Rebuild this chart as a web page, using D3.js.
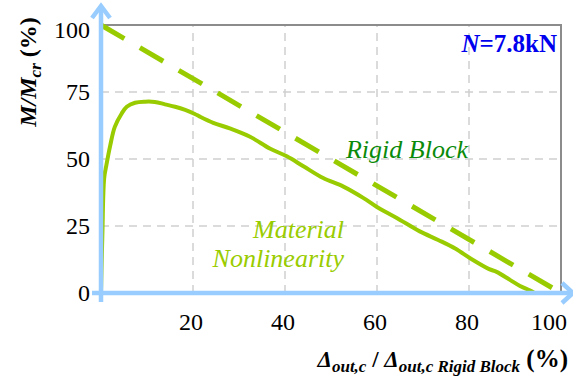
<!DOCTYPE html>
<html>
<head>
<meta charset="utf-8">
<script src="https://cdn.jsdelivr.net/npm/d3@7"></script>
<style>
  body { margin: 0; background: #fff; }
</style>
</head>
<body>
<div class="chart"></div>
<script>
// -- data --
var xTicks = [20, 40, 60, 80, 100];
var yTicks = [0, 25, 50, 75, 100];

var rigidBlock = [
  {x: 0, y: 100},
  {x: 100, y: 0}
];

var materialX = [0, 0.3, 0.7, 1.2, 2.0, 3.0, 4.5, 5.6, 7.4, 9.6, 11.7, 13.9, 16.1, 18.3, 20.4,
                 21.5, 24.4, 28.0, 32.4, 36.7, 40.4, 44.0, 48.3, 52.7, 57.0, 59.9, 64.3, 69.3,
                 73.3, 77.0, 80.6, 84.4, 86.0, 88.9, 91.1, 93.3, 94.2];
var materialY = [0, 22, 43, 48, 55, 62, 67, 69.5, 71.0, 71.4, 71.3, 70.4, 69.5, 68.3, 66.8,
                 65.8, 63.5, 61.4, 58.3, 53.9, 51.0, 47.3, 42.9, 39.7, 35.5, 32.2, 28.0, 23.0,
                 19.8, 16.6, 12.6, 8.9, 7.9, 4.9, 2.6, 0.9, 0];

var width = 573,
    height = 379,
    margin = {top: 25, right: 12, bottom: 86, left: 101},
    serif = "Liberation Serif";

var svg = d3.select("div.chart").append("svg")
    .attr("width", width)
    .attr("height", height)
    .style("display", "block");

var x = d3.scaleLinear()
    .domain([0, 100])
    .range([margin.left, width - margin.right]);

var y = d3.scaleLinear()
    .domain([0, 100])
    .range([height - margin.bottom, margin.top]);

var lime = "#99cc00";
var axisBlue = "#99ccff";

// grid
svg.append("g")
  .selectAll("line")
  .data(xTicks.filter(function(d) { return d < 100; }))
  .enter().append("line")
    .attr("x1", function(d) { return x(d); })
    .attr("x2", function(d) { return x(d); })
    .attr("y1", y(0))
    .attr("y2", y(100))
    .attr("stroke", "#cfcfcf")
    .attr("stroke-width", 1.5)
    .attr("stroke-dasharray", "8,6");

svg.append("g")
  .selectAll("line")
  .data(yTicks.filter(function(d) { return d > 0 && d < 100; }))
  .enter().append("line")
    .attr("x1", x(0))
    .attr("x2", x(100))
    .attr("y1", function(d) { return y(d); })
    .attr("y2", function(d) { return y(d); })
    .attr("stroke", "#cfcfcf")
    .attr("stroke-width", 1.5)
    .attr("stroke-dasharray", "8,6");

// plot frame (top / right)
svg.append("path")
    .attr("d", "M" + x(0) + "," + y(100) + "H" + x(100) + "V" + y(0))
    .attr("fill", "none")
    .attr("stroke", "#8c8c8c")
    .attr("stroke-width", 2);

// lines
var line = d3.line()
    .x(function(d) { return x(d.x); })
    .y(function(d) { return y(d.y); });

var material = materialX.map(function(v, i) { return {x: v, y: materialY[i]}; });

svg.append("path")
    .datum(rigidBlock)
    .attr("fill", "none")
    .attr("stroke", lime)
    .attr("stroke-width", 5)
    .attr("stroke-dasharray", "27,18")
    .attr("d", line);

svg.append("path")
    .datum(material)
    .attr("fill", "none")
    .attr("stroke", lime)
    .attr("stroke-width", 4)
    .attr("stroke-linejoin", "round")
    .attr("d", line.curve(d3.curveCatmullRom));

// axes with arrows
var axes = svg.append("g")
    .attr("fill", "none")
    .attr("stroke", axisBlue)
    .attr("stroke-width", 4.5);

axes.append("path")
    .attr("d", "M" + x(0) + "," + (y(0) + 9) + "V" + 6);
axes.append("path")
    .attr("d", "M" + (x(0) - 9) + "," + y(0) + "H" + 573);
axes.append("path")
    .attr("d", "M" + (x(0) - 9) + ",18L" + x(0) + ",6L" + (x(0) + 9) + ",18");
axes.append("path")
    .attr("d", "M562," + (y(0) - 10) + "L573," + y(0) + "L562," + (y(0) + 10));

// tick labels
svg.append("g")
  .selectAll("text")
  .data(yTicks)
  .enter().append("text")
    .attr("x", 90)
    .attr("y", function(d) { return y(d) + (d == 100 ? 5 : 0); })
    .attr("dy", "0.35em")
    .attr("text-anchor", "end")
    .attr("font-family", serif)
    .attr("font-size", 24)
    .text(function(d) { return d; });

svg.append("g")
  .selectAll("text")
  .data(xTicks)
  .enter().append("text")
    .attr("x", function(d) { return x(d) - (d == 100 ? 12 : 2); })
    .attr("y", 330)
    .attr("text-anchor", "middle")
    .attr("font-family", serif)
    .attr("font-size", 24)
    .text(function(d) { return d; });

// y title
var yt = svg.append("text")
    .attr("transform", "translate(36,72) rotate(-90)")
    .attr("text-anchor", "middle")
    .attr("font-family", serif)
    .attr("font-weight", "bold")
    .attr("font-size", 24);
yt.append("tspan").attr("font-style", "italic").text("M/M");
yt.append("tspan").attr("font-style", "italic").attr("font-size", 17).attr("dy", 5).text("cr");
yt.append("tspan").attr("dy", -5).text(" (%)");

// x title
var xt = svg.append("text")
    .attr("x", 568)
    .attr("y", 367)
    .attr("text-anchor", "end")
    .attr("font-family", serif)
    .attr("font-weight", "bold")
    .attr("font-size", 23);
xt.append("tspan").attr("font-style", "italic").text("\u0394");
xt.append("tspan").attr("font-style", "italic").attr("font-size", 17).attr("dy", 5).text("out,c");
xt.append("tspan").attr("dy", -5).text(" / ");
xt.append("tspan").attr("font-style", "italic").text("\u0394");
xt.append("tspan").attr("font-style", "italic").attr("font-size", 17).attr("dy", 5).text("out,c Rigid Block");
xt.append("tspan").attr("dy", -5).attr("font-size", 25).text(" (%)");

// annotations
var nt = svg.append("text")
    .attr("x", 557)
    .attr("y", 52)
    .attr("text-anchor", "end")
    .attr("fill", "#0000ee")
    .attr("font-family", serif)
    .attr("font-weight", "bold")
    .attr("font-size", 25);
nt.append("tspan").attr("font-style", "italic").text("N");
nt.append("tspan").text("=7.8kN");

svg.append("text")
    .attr("x", 468)
    .attr("y", 158)
    .attr("text-anchor", "end")
    .attr("fill", "#0a8a0a")
    .attr("font-family", serif)
    .attr("font-style", "italic")
    .attr("font-size", 26)
    .text("Rigid Block");

svg.append("text")
    .attr("x", 344)
    .attr("y", 238)
    .attr("text-anchor", "end")
    .attr("fill", lime)
    .attr("font-family", serif)
    .attr("font-style", "italic")
    .attr("font-size", 26)
    .text("Material");

svg.append("text")
    .attr("x", 344)
    .attr("y", 267)
    .attr("text-anchor", "end")
    .attr("fill", lime)
    .attr("font-family", serif)
    .attr("font-style", "italic")
    .attr("font-size", 26)
    .text("Nonlinearity");
</script>
</body>
</html>
